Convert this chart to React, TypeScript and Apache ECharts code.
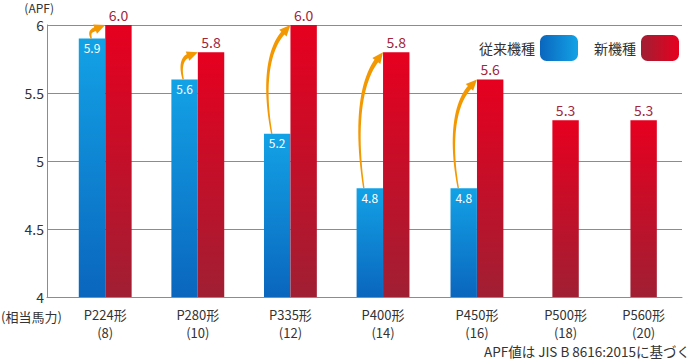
import React, { useEffect, useRef } from "react";
import * as echarts from "echarts";

// ---- data ----
const categories = ["P224形", "P280形", "P335形", "P400形", "P450形", "P500形", "P560形"];
const horsepower = ["(8)", "(10)", "(12)", "(14)", "(16)", "(18)", "(20)"];
const conventional: (number | null)[] = [5.9, 5.6, 5.2, 4.8, 4.8, null, null];
const newModel = [6.0, 5.8, 6.0, 5.8, 5.6, 5.3, 5.3];
const seriesNames = ["従来機種", "新機種"];
const footnote = "APF値は JIS B 8616:2015に基づく";
const yUnit = "(APF)";
const xUnit = "(相当馬力)";

// ---- layout (x axis measured in bar widths) ----
const axisSpan = 24;
const slotCenters = [2.2, 5.7, 9.2, 12.7, 16.25, 19.6, 22.55];

const FONT = "'Noto Sans CJK JP', 'Noto Sans', sans-serif";
const TEXT = "#333";
const GRID_LINE = "#8c8c8c";
const ORANGE = "#f39800";

const blueV = new echarts.graphic.LinearGradient(0, 0, 0, 1, [
  { offset: 0, color: "#13a2e6" },
  { offset: 1, color: "#0a66bd" },
]);
const redV = new echarts.graphic.LinearGradient(0, 0, 0, 1, [
  { offset: 0, color: "#e6001f" },
  { offset: 1, color: "#a01f33" },
]);
const blueH = new echarts.graphic.LinearGradient(0, 0, 1, 0, [
  { offset: 0, color: "#0a66bd" },
  { offset: 1, color: "#13a2e6" },
]);
const redH = new echarts.graphic.LinearGradient(0, 0, 1, 0, [
  { offset: 0, color: "#a01f33" },
  { offset: 1, color: "#e6001f" },
]);

function bez(p0: number[], p1: number[], p2: number[], p3: number[], t: number) {
  const u = 1 - t;
  const a = u * u * u, b = 3 * u * u * t, c = 3 * u * t * t, d = t * t * t;
  return [
    a * p0[0] + b * p1[0] + c * p2[0] + d * p3[0],
    a * p0[1] + b * p1[1] + c * p2[1] + d * p3[1],
  ];
}

function renderArrow(_params: any, api: any) {
  const pos = api.value(0);
  const oldV = api.value(1);
  const newV = api.value(2);
  const blueTop = api.coord([pos - 0.5, oldV]);
  const tip = api.coord([pos, newV]);
  const h = blueTop[1] - tip[1];
  const tail = [blueTop[0] - Math.min(6, h * 0.05), blueTop[1]];
  const b = Math.min(9, 0.08 * h + 1);
  const c1 = [tail[0] - b, tail[1] - 0.45 * h];
  const c2 = [tail[0] - b * 0.4, tip[1] + Math.max(0.22 * h, 6)];
  let dx = tip[0] - c2[0], dy = tip[1] - c2[1];
  const len = Math.sqrt(dx * dx + dy * dy) || 1;
  dx /= len; dy /= len;
  const L = Math.min(11, h * 0.8);
  const W = Math.min(10, h * 0.75);
  const base = [tip[0] - dx * L, tip[1] - dy * L];
  const px = -dy, py = dx;
  const end = [base[0] + dx, base[1] + dy];
  const N = 24;
  const left: number[][] = [];
  const right: number[][] = [];
  for (let i = 0; i <= N; i++) {
    const t = i / N;
    const p = bez(tail, c1, c2, end, t);
    const p2 = bez(tail, c1, c2, end, Math.min(1, t + 0.01));
    const p1 = bez(tail, c1, c2, end, Math.max(0, t - 0.01));
    let tx = p2[0] - p1[0], ty = p2[1] - p1[1];
    const tl = Math.sqrt(tx * tx + ty * ty) || 1;
    tx /= tl; ty /= tl;
    const w = 0.7 + 1.5 * t;
    left.push([p[0] - ty * w, p[1] + tx * w]);
    right.push([p[0] + ty * w, p[1] - tx * w]);
  }
  const body = left.concat(right.reverse());
  return {
    type: "group",
    children: [
      { type: "polygon", shape: { points: body }, style: { fill: ORANGE } },
      {
        type: "polygon",
        shape: {
          points: [
            tip,
            [base[0] + px * W / 2, base[1] + py * W / 2],
            [base[0] - px * W / 2, base[1] - py * W / 2],
          ],
        },
        style: { fill: ORANGE },
      },
    ],
  };
}

export default function App() {
  const ref = useRef<HTMLDivElement>(null);
  useEffect(() => {
    if (!ref.current) return;
    const chart = echarts.init(ref.current, null, { renderer: "svg" });

    const blueData: number[][] = [];
    conventional.forEach((v, i) => {
      if (v != null) blueData.push([slotCenters[i] - 0.5, v]);
    });
    const redData = newModel.map((v, i) => [
      slotCenters[i] + (conventional[i] != null ? 0.5 : 0),
      v,
    ]);
    const arrowData: number[][] = [];
    conventional.forEach((v, i) => {
      if (v != null) arrowData.push([slotCenters[i], v, newModel[i]]);
    });

    chart.setOption({
      animation: false,
      textStyle: { fontFamily: FONT },
      grid: { left: 47, right: 8, top: 25, bottom: 64, containLabel: false },
      legend: {
        right: 6,
        top: 30,
        align: "right",
        itemWidth: 38,
        itemHeight: 26,
        itemGap: 16,
        textStyle: { fontSize: 14, color: TEXT, fontFamily: FONT },
        data: [
          { name: seriesNames[0], itemStyle: { color: blueH } },
          { name: seriesNames[1], itemStyle: { color: redH } },
        ],
      },
      xAxis: {
        type: "value",
        min: 0,
        max: axisSpan,
        axisLine: { show: true, lineStyle: { color: GRID_LINE, width: 1 } },
        axisTick: { show: false },
        splitLine: { show: false },
        axisLabel: {
          customValues: slotCenters,
          margin: 8,
          fontSize: 13,
          lineHeight: 18,
          color: TEXT,
          fontFamily: FONT,
          formatter: (v: number) => {
            const i = slotCenters.findIndex((c) => Math.abs(c - v) < 1e-6);
            return i >= 0 ? categories[i] + "\n" + horsepower[i] : "";
          },
        },
      },
      yAxis: {
        type: "value",
        min: 4,
        max: 6,
        interval: 0.5,
        axisLine: { show: true, lineStyle: { color: GRID_LINE, width: 1 } },
        axisTick: { show: false },
        splitLine: { show: true, lineStyle: { color: GRID_LINE, width: 1 } },
        axisLabel: { fontSize: 14, color: TEXT, margin: 3, fontFamily: FONT },
      },
      graphic: [
        {
          type: "text",
          x: 54,
          y: 7,
          style: {
            text: yUnit,
            fontSize: 12,
            lineHeight: 12,
            fill: TEXT,
            fontFamily: FONT,
            align: "right",
            verticalAlign: "middle",
          },
        },
        {
          type: "text",
          x: 1,
          y: 316,
          style: {
            text: xUnit,
            fontSize: 13,
            lineHeight: 13,
            fill: TEXT,
            fontFamily: FONT,
            align: "left",
            verticalAlign: "middle",
          },
        },
        {
          type: "text",
          right: 0,
          top: 344,
          style: { text: footnote, fontSize: 13.5, fill: TEXT, fontFamily: FONT },
        },
      ],
      series: [
        {
          name: seriesNames[0],
          type: "bar",
          data: blueData,
          barWidth: 26.4,
          barGap: "-100%",
          itemStyle: { color: blueV },
          label: {
            show: true,
            position: "insideTop",
            distance: 3,
            color: "#fff",
            fontSize: 12,
            fontFamily: FONT,
            formatter: (p: any) => Number(p.value[1]).toFixed(1),
          },
        },
        {
          name: seriesNames[1],
          type: "bar",
          data: redData,
          barWidth: 26.4,
          barGap: "-100%",
          itemStyle: { color: redV },
          label: {
            show: true,
            position: "top",
            distance: 3,
            color: "#a3263a",
            fontSize: 14,
            fontFamily: FONT,
            formatter: (p: any) => Number(p.value[1]).toFixed(1),
          },
        },
        {
          name: "arrows",
          type: "custom",
          renderItem: renderArrow,
          data: arrowData,
          encode: { x: 0, y: 1 },
          clip: false,
          z: 5,
          silent: true,
        },
      ],
    });
    return () => chart.dispose();
  }, []);
  return (
    <div
      ref={ref}
      style={{ position: "fixed", left: 0, top: 0, width: 690, height: 361, background: "#fff" }}
    />
  );
}
